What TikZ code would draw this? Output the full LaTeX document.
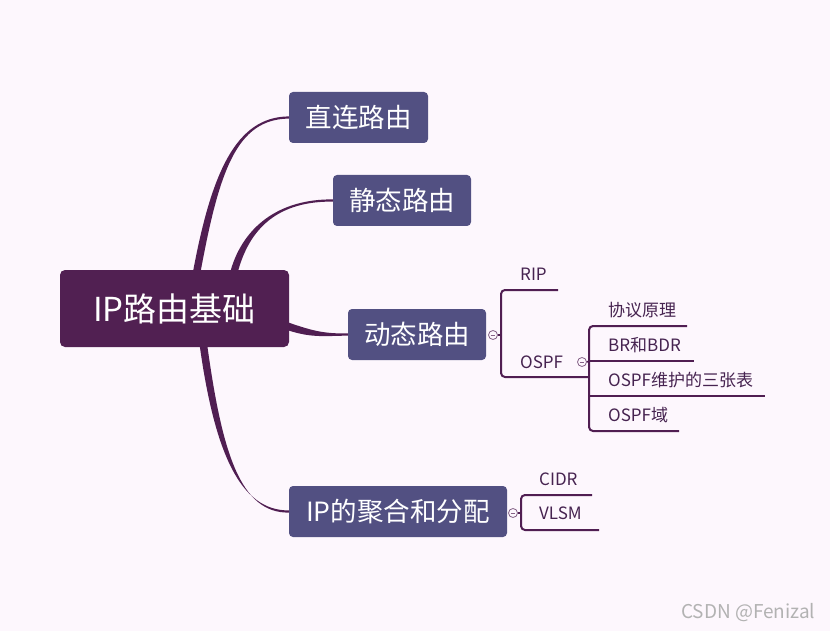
\documentclass[tikz,border=0pt]{standalone}
\usepackage{fontspec}
\setmainfont{Noto Sans CJK SC}
\usetikzlibrary{calc}

\definecolor{bgc}{RGB}{253,247,253}
\definecolor{rootc}{RGB}{81,32,82}
\definecolor{topicc}{RGB}{82,80,130}
\definecolor{linec}{RGB}{80,30,82}
\definecolor{leafc}{RGB}{70,35,80}

% tapered branch: start, control 1, control 2, end, start half-width, end half-width
\newcommand\branch[6]{%
  \fill[linec] ($#1-#5$) .. controls ($#2-#5$) and ($#3-#6$) .. ($#4-#6$)
    -- ($#4+#6$) .. controls ($#3+#6$) and ($#2+#5$) .. ($#1+#5$) -- cycle;}

\begin{document}
\begin{tikzpicture}[x=1pt, y=-1pt,
  rootbox/.style={fill=rootc, rounded corners=5pt, text=white, inner sep=0pt,
    font=\fontsize{33}{37}\selectfont, minimum width=229pt, minimum height=77pt},
  topic/.style={fill=topicc, rounded corners=4pt, text=white, inner sep=0pt,
    font=\fontsize{26.5}{30}\selectfont, minimum height=51pt},
  leaf/.style={text=leafc, font=\fontsize{17}{20}\selectfont, inner sep=0pt, anchor=west},
  subline/.style={draw=linec, line width=2pt, rounded corners=4pt},
  fold/.style={circle, draw=linec!70, fill=bgc, line width=0.8pt, minimum size=9pt, inner sep=0pt,
    path picture={\draw[linec!70, line width=0.7pt]
      ($(path picture bounding box.west)+(2.2,0)$) -- ($(path picture bounding box.east)+(-2.2,0)$);}},
  wmark/.style={text=gray!60, font=\fontsize{19}{22}\selectfont, inner sep=0pt, anchor=east}
]
\useasboundingbox (0,0) rectangle (830,631);
\fill[bgc] (0,0) rectangle (830,631);

% ===== main topics =====
\node[topic, minimum width=139pt] (direct) at (358.5,117.5) {直连路由};
\node[topic, minimum width=138pt] (static) at (402,200.5) {静态路由};
\node[topic, minimum width=138pt] (dynamic) at (417,334.5) {动态路由};
\node[topic, minimum width=218pt] (agg) at (398,511.5) {IP的聚合和分配};

% ===== branches from the root =====
\coordinate (b1) at (196,276);
\coordinate (b2) at (233,276);
\coordinate (b3) at (284,325);
\coordinate (b4) at (203,342);
\branch{(b1)}{(215,172)}{(236,118)}{(direct.west)}{(3.8,0)}{(0,1.1)}
\branch{(b2)}{(245,226)}{(280,200)}{(static.west)}{(3.8,0)}{(0,1.1)}
\branch{(b3)}{(310,334)}{(322,335)}{(dynamic.west)}{(0,4)}{(0,1.1)}
\branch{(b4)}{(218,452)}{(240,512)}{(agg.west)}{(3.8,0)}{(0,1.1)}

% ===== root =====
\node[rootbox] (root) at (174.5,308.5) {IP路由基础};

% ===== dynamic routing subtree =====
\node[fold] (dynfold) at (493,335) {};
\node[leaf] (rip) at (520,274.5) {RIP};
\node[leaf] (ospf) at (520,362) {OSPF};
\coordinate (dynfork) at (501,335);
\draw[subline] (558,290) -- (501,290) -- (501,377) -- (588,377);
\draw[linec, line width=1.5pt] (dynfold.east) -- (dynfork);

\node[fold] (ospffold) at (582,362) {};
\node[leaf] (proto) at (608,310) {协议原理};
\node[leaf] (bdr) at (608,345) {BR和BDR};
\node[leaf] (tables) at (608,380) {OSPF维护的三张表};
\node[leaf] (area) at (608,415) {OSPF域};
\coordinate (ospffork) at (589,361);
\draw[subline] (687,326) -- (589,326) -- (589,431) -- (679,431);
\draw[subline] (ospffork) -- (694,361);
\draw[subline] (589,396) -- (765,396);
\draw[linec, line width=1.5pt] (ospffold.east) -- (ospffork);

% ===== aggregation subtree =====
\node[fold] (aggfold) at (513,513) {};
\node[leaf] (cidr) at (539,479.5) {CIDR};
\node[leaf] (vlsm) at (539,513.5) {VLSM};
\coordinate (aggfork) at (521,513);
\draw[subline] (592,495) -- (521,495) -- (521,530) -- (599,530);
\draw[linec, line width=1.5pt] (aggfold.east) -- (aggfork);

% ===== watermark =====
\node[wmark] (wm) at (815.5,613) {CSDN @Fenizal};
\end{tikzpicture}
\end{document}
